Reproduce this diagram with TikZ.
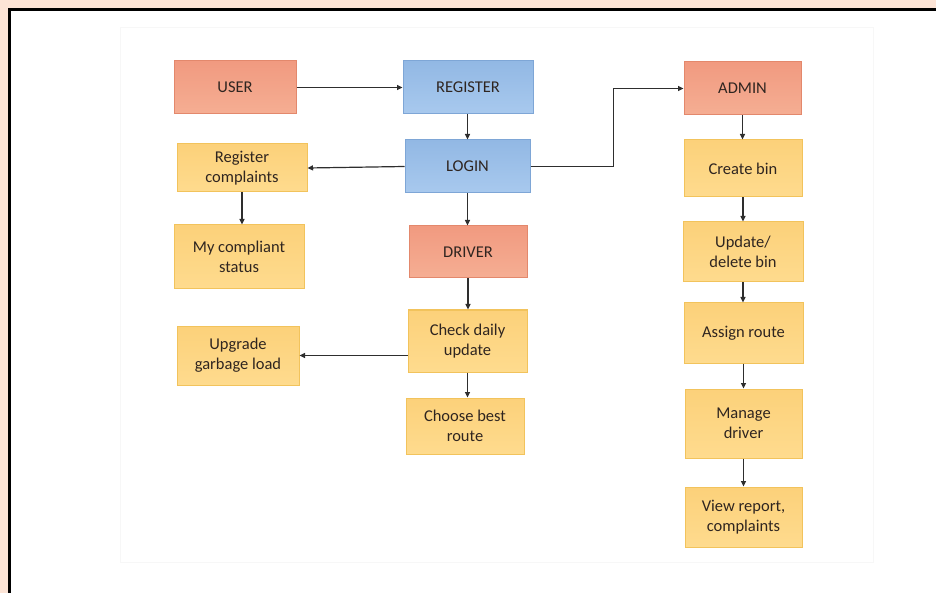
\documentclass[tikz,border=0pt]{standalone}
\usepackage{fontspec}
\setmainfont{Carlito}
\usetikzlibrary{arrows.meta}

\definecolor{peach}{HTML}{FCE4D6}
\definecolor{salmonT}{HTML}{F19A80}
\definecolor{salmonB}{HTML}{F5AE93}
\definecolor{salmonD}{HTML}{E3886C}
\definecolor{blueT}{HTML}{92B8E4}
\definecolor{blueB}{HTML}{A8C9EE}
\definecolor{blueD}{HTML}{7EA6D6}
\definecolor{yelT}{HTML}{FCD17A}
\definecolor{yelB}{HTML}{FEDB8E}
\definecolor{yelD}{HTML}{F2C35C}
\definecolor{ink}{HTML}{2F2520}
\definecolor{linec}{HTML}{2E2E2E}

\tikzset{
  box/.style={rectangle, inner sep=0pt, align=center, line width=1pt,
    font=\fontsize{16.5}{20}\selectfont, text=ink},
  rolebox/.style={box, draw=salmonD, top color=salmonT, bottom color=salmonB},
  authbox/.style={box, draw=blueD, top color=blueT, bottom color=blueB},
  taskbox/.style={box, draw=yelD, top color=yelT, bottom color=yelB},
  conn/.style={draw=linec, line width=1.2pt, -{Triangle[length=5.5pt,width=5pt]}}
}

\begin{document}
\begin{tikzpicture}[x=1pt, y=-1pt]
  % page background and frame
  \useasboundingbox (0,0) rectangle (936,593);
  \fill[peach] (0,0) rectangle (936,593);
  \fill[white] (9.5,9.5) rectangle (936,593);
  \draw[black, line width=3.5pt] (9.5,600) -- (9.5,9.5) -- (940,9.5);
  \draw[black!3, line width=1pt] (120,28) rectangle (873,562);

  % user side
  \node[rolebox, minimum width=122, minimum height=53] (user) at (235,87.5) {USER};
  \node[taskbox, minimum width=130, minimum height=48] (regc) at (242,168) {Register\\complaints};
  \node[taskbox, minimum width=130, minimum height=64] (status) at (239,257) {My compliant\\status};
  \node[taskbox, minimum width=122, minimum height=59] (upgrade) at (238,355.5) {Upgrade\\garbage load};

  % centre column
  \node[authbox, minimum width=130, minimum height=53] (register) at (468,87.5) {REGISTER};
  \node[authbox, minimum width=125, minimum height=53] (login) at (467.5,166.5) {LOGIN};
  \node[rolebox, minimum width=118, minimum height=52] (driver) at (468,252) {DRIVER};
  \node[taskbox, minimum width=119, minimum height=62] (check) at (467.5,341) {Check daily\\update};
  \node[taskbox, minimum width=118, minimum height=56] (choose) at (465,426) {Choose best\\route};

  % admin column
  \node[rolebox, minimum width=117, minimum height=53] (admin) at (742.5,88.5) {ADMIN};
  \node[taskbox, minimum width=118, minimum height=57] (create) at (743,168.5) {Create bin};
  \node[taskbox, minimum width=120, minimum height=60] (update) at (743,252) {Update/\\delete bin};
  \node[taskbox, minimum width=119, minimum height=60] (assign) at (743.5,333) {Assign route};
  \node[taskbox, minimum width=117, minimum height=69] (manage) at (743.5,423.5) {Manage\\driver};
  \node[taskbox, minimum width=117, minimum height=60] (view) at (743.5,517) {View report,\\complaints};

  % connectors
  \draw[conn] (user.east) -- (register.west |- user.east);
  \draw[conn] (register.south -| login.north) -- (login.north);
  \draw[conn] (login.west) -- (regc.east);
  \draw[conn] (regc.south) -- (regc.south |- status.north);
  \draw[conn] (login.south) -- (login.south |- driver.north);
  \draw[conn] (driver.south) -- (driver.south |- check.north);
  \draw[conn] (check.west |- upgrade.east) -- (upgrade.east);
  \draw[conn] (check.south) -- (check.south |- choose.north);
  \draw[conn] (login.east) -- ++(83,0) |- (admin.west);
  \draw[conn] (admin.south) -- (admin.south |- create.north);
  \draw[conn] (create.south) -- (create.south |- update.north);
  \draw[conn] (update.south) -- (update.south |- assign.north);
  \draw[conn] (assign.south) -- (assign.south |- manage.north);
  \draw[conn] (manage.south) -- (manage.south |- view.north);
\end{tikzpicture}
\end{document}
